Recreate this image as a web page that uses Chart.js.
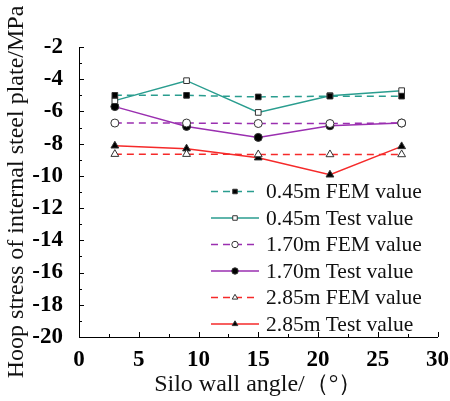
<!DOCTYPE html>
<html>
<head>
<meta charset="utf-8">
<script src="https://cdn.jsdelivr.net/npm/chart.js@4/dist/chart.umd.min.js"></script>
<style>
  html, body { margin: 0; padding: 0; background: #fff; }
  #wrap { width: 450px; height: 401px; position: relative; }
</style>
</head>
<body>
<div id="wrap"><canvas id="stressChart"></canvas></div>
<script>
// Silo wall angle (deg)
const angles = [3, 9, 15, 21, 27];

// Hoop stress (MPa)
const fem045 = [-5.0, -5.0, -5.1, -5.05, -5.05];
const test045 = [-5.33, -4.09, -6.06, -5.02, -4.71];
const fem170 = [-6.72, -6.72, -6.75, -6.75, -6.72];
const test170 = [-5.7, -6.93, -7.61, -6.89, -6.72];
const fem285 = [-8.65, -8.65, -8.67, -8.67, -8.67];
const test285 = [-8.13, -8.31, -8.87, -9.93, -8.17];

const seriesLabels = ['0.45m FEM value', '0.45m Test value', '1.70m FEM value',
    '1.70m Test value', '2.85m FEM value', '2.85m Test value'];

const teal = '#2a9d8f';
const purple = '#9a2fb0';
const red = '#f52a2a';

function pts(vals) {
    return vals.map((v, i) => ({ x: angles[i], y: v }));
}

function makeSet(label, vals, color, dashed, style, fill) {
    return {
        label: label,
        data: pts(vals),
        borderColor: color,
        borderWidth: 1.5,
        borderDash: dashed ? [7, 5] : [],
        pointStyle: style,
        pointRadius: style === 'triangle' ? 4.5 : 4,
        pointBackgroundColor: fill,
        pointBorderColor: '#333',
        pointBorderWidth: 1,
        tension: 0,
        fill: false
    };
}

// inward ticks drawn by hand (major + minor)
const innerTicks = {
    id: 'innerTicks',
    afterDraw(chart) {
        const ctx = chart.ctx;
        const xs = chart.scales.x, ys = chart.scales.y;
        const area = chart.chartArea;
        ctx.save();
        ctx.strokeStyle = '#000';
        ctx.lineWidth = 1;
        ctx.beginPath();
        for (let v = 0; v <= 30; v += 2.5) {
            const px = Math.round(xs.getPixelForValue(v)) + 0.5;
            const len = (v % 5 === 0) ? 5 : 3;
            ctx.moveTo(px, area.bottom);
            ctx.lineTo(px, area.bottom - len);
        }
        for (let v = -20; v <= -2; v += 1) {
            const py = Math.round(ys.getPixelForValue(v)) + 0.5;
            const len = (v % 2 === 0) ? 5 : 3;
            ctx.moveTo(area.left, py);
            ctx.lineTo(area.left + len, py);
        }
        ctx.stroke();
        ctx.restore();
    }
};

// legend drawn inside the plot, lower right
const innerLegend = {
    id: 'innerLegend',
    afterDraw(chart) {
        const ctx = chart.ctx;
        const x0 = 211, x1 = 259, tx = 266;
        let y = 191.5;
        ctx.save();
        ctx.font = '21.5px "Liberation Serif", "Times New Roman", serif';
        ctx.textBaseline = 'middle';
        chart.data.datasets.forEach(ds => {
            ctx.strokeStyle = ds.borderColor;
            ctx.lineWidth = 1.5;
            ctx.setLineDash(ds.borderDash);
            ctx.beginPath();
            ctx.moveTo(x0, y);
            ctx.lineTo(x1, y);
            ctx.stroke();
            ctx.setLineDash([]);
            ctx.fillStyle = ds.pointBackgroundColor;
            ctx.strokeStyle = '#333';
            ctx.lineWidth = 1;
            Chart.helpers.drawPoint(ctx, {
                pointStyle: ds.pointStyle,
                radius: 3.2,
                rotation: 0,
                borderWidth: 1
            }, (x0 + x1) / 2, y);
            ctx.fillStyle = '#111';
            ctx.fillText(ds.label, tx, y + 1);
            y += 26.5;
        });
        ctx.restore();
    }
};

const tickFont = { family: "'Liberation Serif', 'Times New Roman', serif", size: 23, weight: 'bold' };
const titleFont = { family: "'Liberation Serif', 'Times New Roman', serif", size: 24 };

new Chart(document.getElementById('stressChart').getContext('2d'), {
    type: 'line',
    data: {
        datasets: [
            makeSet(seriesLabels[0], fem045, teal, true, 'rect', '#000'),
            makeSet(seriesLabels[1], test045, teal, false, 'rect', '#fff'),
            makeSet(seriesLabels[2], fem170, purple, true, 'circle', '#fff'),
            makeSet(seriesLabels[3], test170, purple, false, 'circle', '#000'),
            makeSet(seriesLabels[4], fem285, red, true, 'triangle', '#fff'),
            makeSet(seriesLabels[5], test285, red, false, 'triangle', '#000')
        ]
    },
    options: {
        responsive: true,
        maintainAspectRatio: false,
        animation: false,
        layout: { padding: { top: 47, right: 12, left: 2, bottom: 0 } },
        plugins: {
            legend: { display: false },
            tooltip: { enabled: false }
        },
        scales: {
            x: {
                type: 'linear',
                min: 0,
                max: 30,
                ticks: { stepSize: 5, color: '#000', font: tickFont, padding: 1, maxRotation: 0 },
                grid: { display: false },
                border: { display: true, color: '#000', width: 1 },
                title: { display: true, text: 'Silo wall angle/（°）', color: '#111', font: titleFont, padding: { top: 5, bottom: 2 } },
                afterFit(scale) { scale.height = 64; }
            },
            y: {
                min: -20,
                max: -2,
                ticks: { stepSize: 2, color: '#000', font: tickFont, padding: 8 },
                grid: { display: false },
                border: { display: true, color: '#000', width: 1 },
                title: { display: true, text: 'Hoop stress of internal steel plate/MPa', color: '#111', font: titleFont, padding: { top: 0, bottom: 2 } },
                afterFit(scale) { scale.width = 77; }
            }
        }
    },
    plugins: [innerTicks, innerLegend]
});
</script>
</body>
</html>
